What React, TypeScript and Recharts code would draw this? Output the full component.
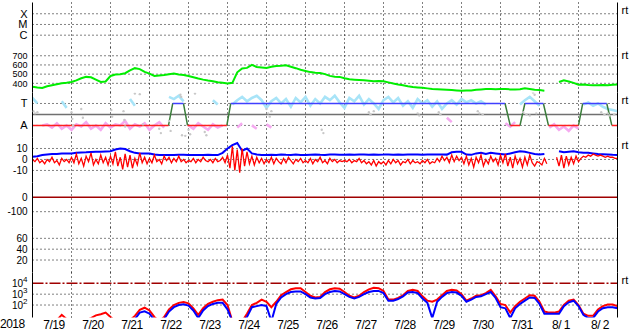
import React from 'react';
import { ComposedChart, Line, XAxis, YAxis, CartesianGrid, ReferenceLine } from 'recharts';

// hours since 2018-07-19 00:00, 15 days across the plot
const dayLabels = ['7/19', '7/20', '7/21', '7/22', '7/23', '7/24', '7/25', '7/26', '7/27', '7/28', '7/29', '7/30', '7/31', '8/ 1', '8/ 2'];
const hours3 = Array.from({ length: 121 }, (_, i) => i * 3);
const hours15 = Array.from({ length: 241 }, (_, i) => i * 1.5);
const midnights = dayLabels.slice(1).map((_, i) => (i + 1) * 24);
const noons = dayLabels.map((_, i) => i * 24 + 12);

// solar wind speed, km/s (3 h steps)
const speed = [
  362, 355, 350, 368, 380, 390, 400, 405, 414, 432,
  455, 470, 465, 440, 415, 420, 480, 495, 498, 510,
  540, 565, 555, 525, 505, 480, 485, 490, 498, 506,
  496, 490, 480, 466, 452, 440, 430, 422, 412, 405,
  398, 405, 520, 562, 568, 600, 578, 572, 566, 580,
  588, 590, 596, 580, 565, 548, 535, 522, 515, 512,
  500, 481, 472, 470, 455, 445, 440, 436, 433, 428,
  423, 425, 422, 410, 398, 388, 380, 368, 359, 355,
  351, 345, 337, 336, 334, 330, 326, 322, 319, 322,
  323, 330, 334, 337, 337, 336, 338, 337, 334, 333,
  336, 345, 338, 330, 326, 320, null, null, 415, 434,
  420, 405, 385, 388, 382, 380, 378, 382, 380, 385,
  388,
];

// IMF angle, toward sector (cyan) and away sector (pink), 3 h steps
const phiToward = [
  1.5, 1.0, null, null, null, null, 1.2, 0.6,
  null, null, null, null, null, null, null, null,
  null, null, null, null, 1.4, 0.8, null, null,
  null, null, null, null, 1.6, 1.4, 1.7, 1.2,
  null, null, null, null, null, 1.3, 0.9, null,
  null, 0.9, 1.3, 1.6, 1.2, 1.5, 1.7, 1.3,
  0.6, 1.2, 1.5, 1.0, 1.4, 0.7, 1.5, 1.1,
  1.6, 0.8, 1.4, 1.0, 1.6, 1.3, 1.7, 1.1,
  0.6, 1.5, 1.2, 1.7, 0.9, 1.4, 1.0, 0.5,
  1.3, 1.6, 1.1, 1.5, 0.8, 1.2, 0.6, 1.4,
  1.0, 1.3, 0.7, 1.2, 0.5, 1.0, 1.3, 0.9,
  1.4, 1.1, 1.3, 1.0, 1.2, 0.9, null, null,
  null, null, null, null, 0.9, 1.3, 1.6, 1.2,
  0.8, null, null, null, null, null, null, null,
  null, 0.9, 1.1, 0.8, 1.0, 0.7, 0.5, 0.4,
  0.3,
];
const phiAway = [
  null, null, -1.0, -0.9, -1.2, -0.8, -1.3, -1.0,
  -1.4, -0.9, -1.1, -0.7, -1.3, -1.0, -1.4, -0.8,
  -1.2, -0.9, -1.0, -0.6, -1.3, -0.9, -1.1, -0.8,
  -1.4, -1.0, -0.7, -1.2, null, null, null, null,
  -1.0, -1.3, -0.8, -1.1, -1.4, -0.9, -1.2, -1.0,
  null, null, -1.2, -0.8, null, -1.0, -1.3, null,
  -0.9, -1.2, null, null, null, null, null, null,
  null, null, null, null, null, null, null, null,
  null, null, null, null, null, null, null, null,
  null, null, null, null, null, null, null, null,
  null, null, null, null, null, -0.3, -0.7, null,
  null, null, null, null, null, null, null, null,
  null, -0.8, -1.1, -0.7, null, null, null, null,
  null, null, -1.2, -0.9, -1.4, -1.1, -1.5, -1.0,
  -1.3, null, null, null, null, null, null, null,
  null,
];
const phiOtherTimes = [0.5, 1.5, 3, 24, 24.5, 25, 30, 31, 48.5, 49, 56, 56.5, 57, 63, 66, 68, 78, 79, 84, 85, 91, 91.5, 92, 94, 96, 97, 100, 106, 107, 144, 145, 146, 147, 178, 179, 207, 208, 210, 237, 238, 250, 251, 274, 275, 277, 302, 304, 306, 308, 309, 310, 350, 352, 354, 355, 358];
const phiOtherVals = [0.3, 0.1, 0.2, 0.2, -0.4, -1.0, 0.5, -0.3, 0.4, -0.2, 0.3, -0.5, -1.1, 1.9, 1.85, -0.9, -1.3, -1.7, -0.6, -1.5, 1.8, 1.6, -1.9, -1.95, -1.4, -1.8, 1.9, -1.6, -1.9, 0.5, 0.1, -0.2, 0.3, -1.4, -1.7, 0.2, 0.0, 0.3, 0.1, -0.1, 0.2, 0.0, 0.3, 0.1, 0.0, 0.2, 0.0, -0.1, 2.0, 1.8, 0.1, 0.2, 0.0, 0.1, -0.1, 0.0];

// sector polarity: 1 = toward (T), -1 = away (A)
const polarityTimes = [0, 83.7, 86.3, 92.9, 95.4, 119.6, 122, 290.8, 294, 300, 303, 314.4, 317.5, 336, 338.6, 353.4, 356.5, 360];
const polarityLevels = [-1, -1, 1, 1, -1, -1, 1, 1, -1, -1, 1, 1, -1, -1, 1, 1, -1, -1];

// IMF Bt (blue), nT, 3 h steps
const bt = [
  2.5, 3.0, 4.0, 4.5, 5.0, 5.0, 5.5, 5.5,
  5.5, 6.0, 6.4, 6.5, 6.8, 7.0, 7.0, 7.3,
  7.5, 9.0, 10.0, 9.5, 7.5, 6.0, 5.5, 5.5,
  5.5, 4.5, 4.0, 4.0, 4.0, 4.0, 4.2, 4.3,
  4.0, 4.0, 4.0, 4.0, 4.2, 4.0, 4.0, 6.0,
  10.0, 13.0, 15.0, 8.0, 10.0, 5.5, 4.5, 4.0,
  4.0, 4.3, 4.0, 4.5, 4.2, 4.0, 4.4, 4.1,
  4.0, 4.3, 4.5, 4.2, 4.0, 4.4, 4.6, 4.3,
  4.2, 4.5, 4.3, 4.6, 4.4, 4.2, 4.5, 4.3,
  4.4, 4.6, 4.3, 4.5, 4.2, 4.4, 4.6, 4.5,
  4.3, 4.5, 4.4, 4.6, 4.5, 4.4, 6.5, 7.0,
  7.0, 4.5, 4.2, 5.5, 6.0, 5.0, 6.0, 5.5,
  5.0, 4.5, 5.5, 6.5, 7.5, 7.0, 6.0, 5.0,
  4.5, 5.0, null, null, 7.5, 6.5, 7.0, 7.5,
  6.5, 6.0, 6.0, 5.5, 5.0, 4.8, 4.5, 4.2,
  4.0,
];

// IMF Bz (red), nT, 1.5 h steps
const bz = [
  0, -2, 1, -3, -1, -4, 0, -2, 2, -3, -1, -5, 1, -2, 0, -3,
  2, -3, 5, -4, 1, -6, 3, -2, 6, -5, 0, -4, 4, -3, 2, -5,
  3, -4, 7, -6, 2, -9, 5, -7, 4, -8, 1, -5, 6, -3, 2, -4,
  1, -3, 4, -2, 0, -4, 3, -1, 2, -3, 1, -2, 3, -2, 0, -3,
  -1, -2, 1, -3, 0, -2, 2, -1, -2, 0, -3, 1, -2, -1, 2, -3,
  4, -8, 12, -10, 9, -12, 10, -6, 7, -4, 3, -5, 2, -3, 1, -4,
  0, -3, 2, -4, 1, -2, -4, 1, -3, 2, -1, -4, 0, -2, 1, -3,
  -1, -3, 1, -4, 0, -2, 2, -3, -1, -4, 1, -2, 0, -3, -1, -2,
  -1, -2, 0, -3, -1, -2, 1, -3, -1, -4, -2, -5, -1, -6, -2, -4,
  -2, -5, -1, -4, 0, -3, -1, -5, -2, -3, 0, -4, -1, -3, -2, -4,
  -1, -3, 0, -4, -2, -3, 1, -2, 3, -1, 2, -3, 4, -2, 3, -1,
  2, -4, 3, -5, 1, -7, 2, -3, 4, -6, 0, -4, 3, -2, 1, -5,
  4, -3, 5, -6, 2, -8, 3, -4, 1, -7, 2, -5, 4, -3, -6, -2,
  -3, -5, 1, -4, null, null, null, 2, -6, 4, -8, 3, -5, 2, -4, 3,
  -2, 1, 3, 2, 4, 3, 5, 4, 3, 4, 3, 2, 3, 2, 2, 1,
  1,
];

// particle flux, log10 exponent, 3 h steps
const fluxRedExp = [
  0.5, 0.5, 0.5, 0.5, 0.5, 0.6, 1.1, 0.7,
  0.5, 0.5, 0.5, 0.6, 0.8, 1.05, 1.15, 1.3,
  0.9, 0.5, 0.5, 0.5, 0.6, 1.0, 1.55, 1.75,
  1.5, 0.9, 0.5, 0.9, 1.6, 2.0, 2.2, 2.27,
  2.15, 1.7, 1.1, 1.7, 2.1, 2.3, 2.45, 2.5,
  2.0, 0.5, 0.5, 0.5, 1.2, 2.0, 2.2, 2.5,
  2.3, 1.8, 2.3, 2.9, 3.2, 3.45, 3.55, 3.55,
  3.2, 2.85, 2.7, 2.75, 3.2, 3.45, 3.55, 3.5,
  3.2, 2.85, 2.7, 2.85, 3.2, 3.45, 3.6, 3.55,
  3.3, 2.5, 2.5, 2.65, 2.9, 3.3, 3.4, 3.3,
  2.8, 2.4, 2.3, 2.5, 2.9, 3.3, 3.4, 3.35,
  3.0, 2.4, 2.6, 2.85, 2.9, 3.1, 3.4, 2.8,
  2.1, 2.0, 1.3, 1.9, 2.3, 2.6, 2.9, 2.85,
  2.3, 1.4, 1.3, 1.3, 1.4, 2.0, 2.4, 2.5,
  2.0, 1.2, 1.0, 1.0, 1.6, 1.9, 2.05, 2.05,
  1.9,
];
const fluxBlueExp = [
  0.5, 0.5, 0.5, 0.5, 0.5, 0.5, 0.5, 0.5,
  0.5, 0.5, 0.5, 0.5, 0.5, 0.5, 0.6, 0.7,
  0.5, 0.5, 0.5, 0.5, 0.5, 0.7, 1.3, 1.42,
  1.2, 0.6, 0.5, 0.7, 1.4, 1.8, 2.0, 2.07,
  1.95, 1.5, 0.8, 1.5, 1.9, 2.1, 2.2, 2.2,
  1.6, 0.5, 0.5, 0.5, 0.9, 1.8, 1.9, 2.0,
  1.9, 0.5, 2.1, 2.7, 3.0, 3.2, 3.25, 3.25,
  3.0, 2.7, 2.6, 2.65, 3.0, 3.2, 3.3, 3.25,
  3.0, 2.75, 2.6, 2.75, 3.0, 3.2, 3.3, 3.3,
  3.1, 2.4, 2.4, 2.55, 2.8, 3.15, 3.2, 3.1,
  2.6, 2.2, 0.8, 2.3, 2.75, 3.1, 3.2, 3.15,
  2.85, 2.3, 2.5, 2.75, 2.8, 3.0, 3.2, 2.65,
  1.8, 1.7, 0.8, 1.7, 2.1, 2.4, 2.7, 2.65,
  2.1, 1.2, 1.2, 1.2, 1.2, 1.9, 2.25, 2.4,
  1.9, 1.1, 0.8, 0.8, 1.4, 1.7, 1.8, 1.8,
  1.7,
];

const rows = (hs: number[], vs: (number | null)[]) => hs.map((h, i) => ({ h, v: vs[i] }));

// kind: 'A' away segments, 'T' toward segments, 'X' crossings
function polarityRows(kind: string) {
  const out: { h: number; v: number | null }[] = [];
  for (let i = 0; i < polarityTimes.length - 1; i++) {
    const a = polarityLevels[i];
    const b = polarityLevels[i + 1];
    const k = a === b ? (a > 0 ? 'T' : 'A') : 'X';
    if (k !== kind) continue;
    out.push({ h: polarityTimes[i], v: a }, { h: polarityTimes[i + 1], v: b }, { h: polarityTimes[i + 1], v: null });
  }
  return out;
}

const frame = [{ h: 0 }, { h: 360 }];
const W = 633;
const axisStroke = { stroke: '#000', strokeWidth: 1 };
const tickStyle = { fill: '#000', fontSize: 10 };

const PowerTick = (props: any) => {
  const { x, y, payload } = props;
  return (
    <text x={x} y={y} dy={4} textAnchor="end" fill="#000" fontSize={10}>
      10<tspan dy={-5} fontSize={8}>{payload.value}</tspan>
    </text>
  );
};

const DayTick = (props: any) => {
  const { x, y, payload } = props;
  return (
    <text x={x + 2} y={y} dy={9} textAnchor="middle" fill="#000" fontSize={12} letterSpacing={-0.5}>
      {dayLabels[Math.floor(payload.value / 24)]}
    </text>
  );
};

type PanelProps = {
  index: number;
  domain: [number, number];
  ticks: number[];
  grid: number[];
  fmt?: (v: number) => string;
  tick?: any;
  rt?: boolean;
  last?: boolean;
  children?: React.ReactNode;
};

function Panel({ index, domain, ticks, grid, fmt, tick, rt, last, children }: PanelProps) {
  const height = last ? 72 : 62;
  return (
    <div style={{ position: 'absolute', left: 0, top: index * 45 - 6, width: W, height }}>
      <ComposedChart width={W} height={height} data={frame} margin={{ top: 8.5, right: 0.5, bottom: last ? 2.5 : 8.5, left: 0.5 }}>
        <CartesianGrid stroke="#000" strokeDasharray="1 3" vertical={false} horizontalValues={grid} />
        <XAxis xAxisId={0} dataKey="h" type="number" domain={[0, 360]} ticks={midnights} tick={false} tickLine={false} axisLine={axisStroke} height={0} allowDataOverflow />
        <XAxis xAxisId="top" orientation="top" dataKey="h" type="number" domain={[0, 360]} tick={false} tickLine={false} axisLine={axisStroke} height={0} allowDataOverflow />
        {last && (
          <XAxis xAxisId="lab" dataKey="h" type="number" domain={[0, 360]} ticks={noons} interval={0} tick={<DayTick />} tickLine={false} axisLine={false} tickSize={0} tickMargin={2} height={16} allowDataOverflow />
        )}
        <YAxis yAxisId={0} type="number" width={32} domain={domain} ticks={ticks} interval={0} tick={tick || tickStyle} tickFormatter={fmt} tickLine={false} tickSize={0} tickMargin={5} axisLine={axisStroke} allowDataOverflow />
        <YAxis
          yAxisId="r"
          orientation="right"
          type="number"
          width={15}
          domain={domain}
          tick={false}
          tickLine={false}
          axisLine={axisStroke}
          allowDataOverflow
          label={rt ? { value: 'rt', position: 'insideTopLeft', offset: 4, fill: '#000', fontSize: 11 } : undefined}
        />
        {midnights.map((m) => (
          <ReferenceLine key={m} x={m} stroke="#000" strokeDasharray="1 3" />
        ))}
        {children}
      </ComposedChart>
    </div>
  );
}

const xrayName: Record<number, string> = { 1: 'C', 2: 'M', 3: 'X' };

export default function App() {
  return (
    <div style={{ position: 'absolute', left: 0, top: 0, width: W, height: 334, background: '#fff', overflow: 'hidden', fontFamily: "'Liberation Sans', Arial, sans-serif" }}>
      <Panel index={0} domain={[-0.15, 4.05]} ticks={[1, 2, 3]} grid={[1, 2, 3]} fmt={(v) => xrayName[v]} tick={{ fill: '#000', fontSize: 11 }} rt />
      <Panel index={1} domain={[300, 790]} ticks={[400, 500, 600, 700]} grid={[400, 500, 600, 700]} tick={{ fill: '#000', fontSize: 9 }} rt>
        <Line data={rows(hours3, speed)} dataKey="v" stroke="#00ee00" strokeWidth={2} dot={false} isAnimationActive={false} />
      </Panel>
      <Panel index={2} domain={[-2.1, 2.0]} ticks={[-1, 1]} grid={[-1, 1]} fmt={(v) => (v > 0 ? 'T' : 'A')} tick={{ fill: '#000', fontSize: 11 }} rt>
        <Line data={rows(phiOtherTimes, phiOtherVals)} dataKey="v" stroke="none" dot={{ r: 1.2, fill: '#c8c8c8', stroke: 'none' }} isAnimationActive={false} />
        <Line data={rows(hours3, phiToward)} dataKey="v" stroke="#a8e4f8" strokeWidth={2.6} dot={false} isAnimationActive={false} />
        <Line data={rows(hours3, phiAway)} dataKey="v" stroke="#f5aaf0" strokeWidth={2.6} dot={false} isAnimationActive={false} />
        <ReferenceLine y={0} stroke="#707070" strokeWidth={1.5} />
        <Line data={polarityRows('X')} dataKey="v" stroke="#3a7d3a" strokeWidth={1.5} dot={false} isAnimationActive={false} />
        <Line data={polarityRows('A')} dataKey="v" stroke="#ff2020" strokeWidth={1.5} dot={false} isAnimationActive={false} />
        <Line data={polarityRows('T')} dataKey="v" stroke="#4040ff" strokeWidth={1.5} dot={false} isAnimationActive={false} />
      </Panel>
      <Panel index={3} domain={[-21, 20]} ticks={[-10, 0, 10]} grid={[-10, 0, 10]} rt>
        <Line data={rows(hours3, bt)} dataKey="v" stroke="#0000ff" strokeWidth={2} dot={false} isAnimationActive={false} />
        <Line data={rows(hours15, bz)} dataKey="v" stroke="#ff0000" strokeWidth={1.3} dot={false} isAnimationActive={false} />
      </Panel>
      <Panel index={4} domain={[-210, 103]} ticks={[-100, 0]} grid={[-100]}>
        <ReferenceLine y={0} stroke="#a00000" strokeWidth={1.5} />
      </Panel>
      <Panel index={5} domain={[-3, 80]} ticks={[20, 40, 60]} grid={[20, 40, 60]} />
      <Panel index={6} domain={[0.85, 5]} ticks={[2, 3, 4]} grid={[2, 3]} tick={<PowerTick />} rt last>
        <ReferenceLine y={4} stroke="#a00000" strokeWidth={1.5} strokeDasharray="11 2 2 2" />
        <Line data={rows(hours3, fluxRedExp)} dataKey="v" stroke="#ff0000" strokeWidth={2} dot={false} isAnimationActive={false} />
        <Line data={rows(hours3, fluxBlueExp)} dataKey="v" stroke="#0000ff" strokeWidth={2} dot={false} isAnimationActive={false} />
      </Panel>
      <div style={{ position: 'absolute', left: 0, top: 318, fontSize: 12, lineHeight: '12px', letterSpacing: -0.5, color: '#000' }}>2018</div>
    </div>
  );
}
